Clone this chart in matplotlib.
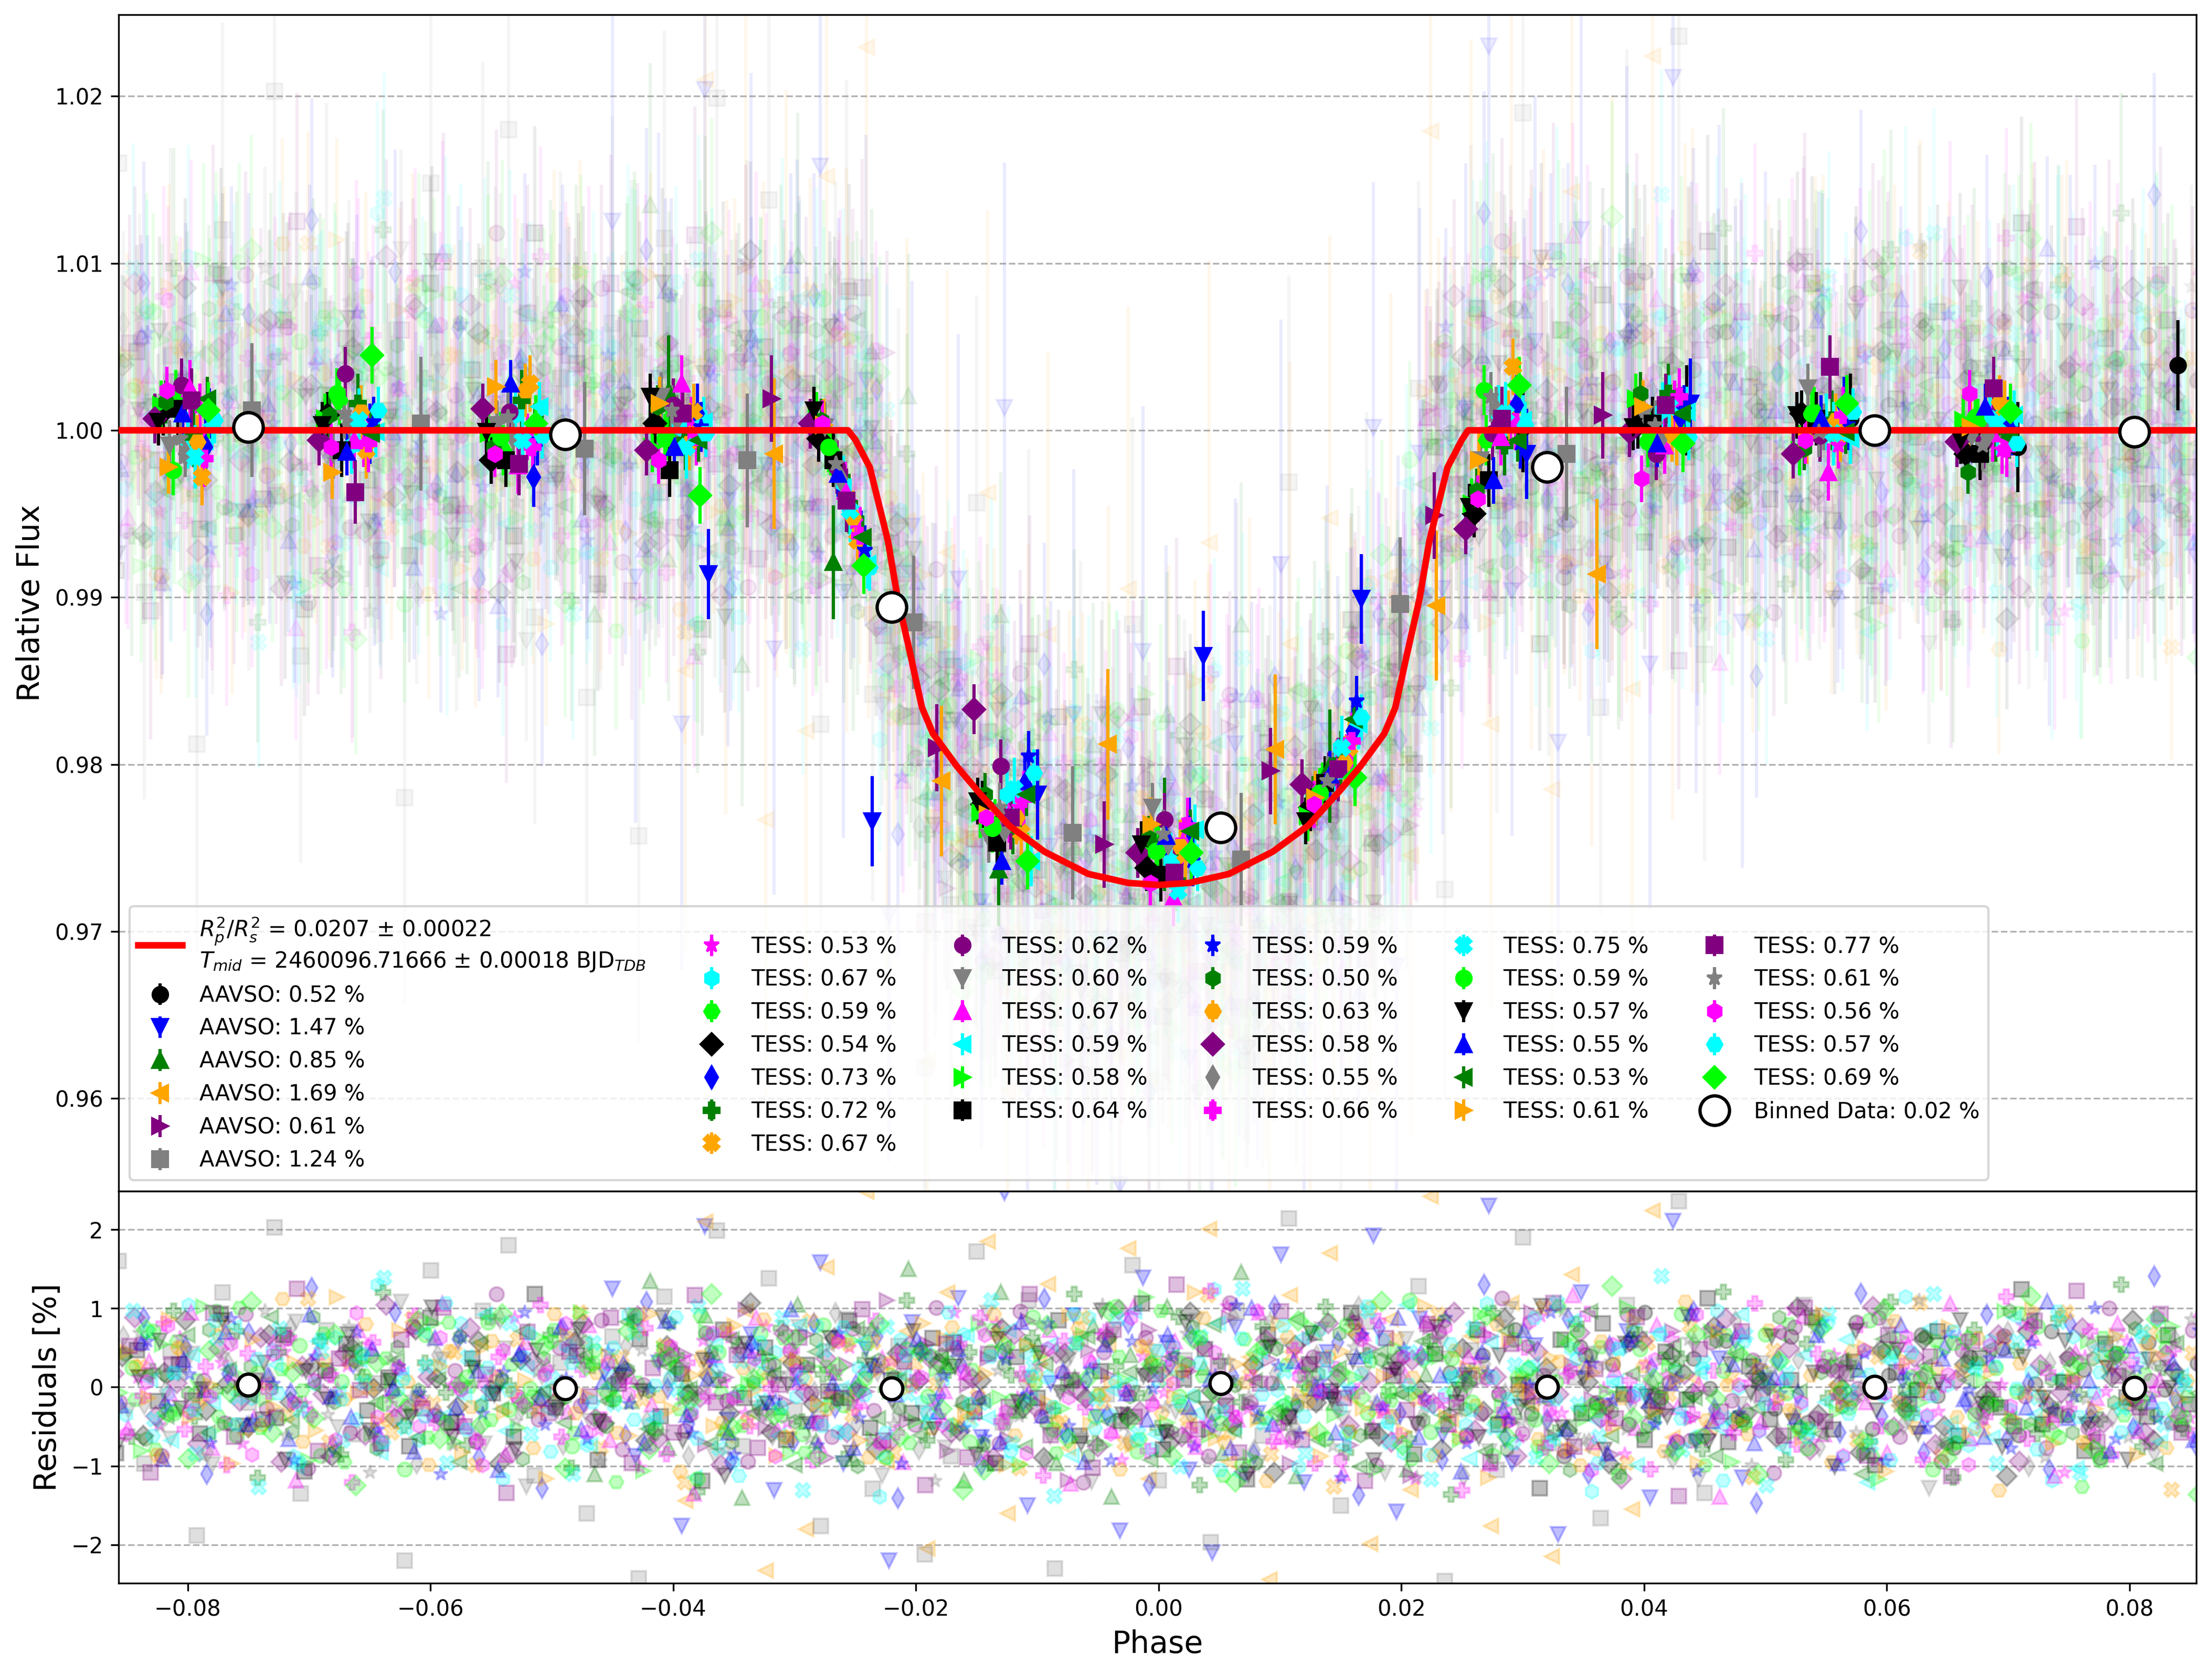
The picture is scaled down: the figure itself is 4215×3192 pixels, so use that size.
import numpy as np
import matplotlib.pyplot as plt

# red transit model
model_phase = [-0.0857, -0.0256, -0.0250, -0.0238, -0.0223, -0.0215, -0.0205, -0.0195, -0.0186,
               -0.0166, -0.0148, -0.0123, -0.0094, -0.0058, -0.0025, 0.0, 0.0025, 0.0058, 0.0094,
               0.0123, 0.0148, 0.0166, 0.0186, 0.0195, 0.0205, 0.0215, 0.0223, 0.0238, 0.0250,
               0.0255, 0.0855]
model_flux = [1.0, 1.0, 0.99945, 0.99778, 0.99336, 0.98993, 0.98672, 0.98340, 0.98185,
              0.97986, 0.97831, 0.97632, 0.97477, 0.97344, 0.97290, 0.97278, 0.97290, 0.97344, 0.97477,
              0.97632, 0.97831, 0.97986, 0.98185, 0.98340, 0.98672, 0.98993, 0.99336, 0.99778, 0.99945,
              1.0, 1.0]

fit_label = ("$R^2_p/R^2_s$ = 0.0207 ± 0.00022\n"
             "$T_{mid}$ = 2460096.71666 ± 0.00018 BJD$_{TDB}$")

# scatter of residuals (%) per dataset, as given in the legend
aavso_sigma = [0.52, 1.47, 0.85, 1.69, 0.61, 1.24]
tess_sigma = [0.53, 0.67, 0.59, 0.54, 0.73, 0.72, 0.67,
              0.62, 0.60, 0.67, 0.59, 0.58, 0.64,
              0.59, 0.50, 0.63, 0.58, 0.55, 0.66,
              0.75, 0.59, 0.57, 0.55, 0.53, 0.61,
              0.77, 0.61, 0.56, 0.57, 0.69]

# AAVSO binned points (phase, flux deviation in 1e-4, error in 1e-4)
aavso_bin_phase = [
    [0.0300, 0.0435, 0.0570, 0.0708, 0.0840],
    [-0.0371, -0.0236, -0.0100, 0.0037, 0.0167, 0.0303, 0.0438],
    [-0.0404, -0.0268, -0.0132, 0.0005, 0.0141],
    [-0.0317, -0.0179, -0.0042, 0.0096, 0.0229, 0.0361],
    [-0.0319, -0.0183, -0.0045, 0.0092, 0.0227, 0.0366],
    [-0.0747, -0.0608, -0.0473, -0.0339, -0.0202, -0.0071, 0.0068, 0.0199, 0.0336],
]
aavso_bin_dev = [
    [2, 12, 7, -10, 39],
    [-86, -234, -218, -135, -101, -14, 16],
    [23, -79, -263, -242, -201],
    [-14, -210, -188, -191, -105, -86],
    [19, -190, -248, -204, -51, 9],
    [12, 4, -11, -18, -115, -241, -257, -104, -14],
]
aavso_bin_err = [27, 27, 34, 45, 26, 40]
aavso_range = [(0.024, 0.0856), (-0.045, 0.050), (-0.048, 0.022),
               (-0.039, 0.044), (-0.039, 0.044), (-0.0857, 0.045)]

# TESS binned points: common bin centres plus a phase shift per sector
bin_centres = [-0.0830, -0.0695, -0.0560, -0.0425, -0.0290, -0.0155,
               -0.0020, 0.0115, 0.0250, 0.0385, 0.0520, 0.0655]
tess_shift = [0.0040, 0.0030, 0.0020, 0.0010, 0.0045, 0.0035, 0.0042, 0.0025, 0.0015, 0.0032,
              0.0050, 0.0008, 0.0022, 0.0048, 0.0012, 0.0038, 0.0003, 0.0028, 0.0044, 0.0036,
              0.0018, 0.0006, 0.0026, 0.0046, 0.0014, 0.0033, 0.0024, 0.0013, 0.0052, 0.0047]
tess_bin_dev = [
    [14, -8, -4, 6, -55, -226, -246, -196, 4, 16, -9, -12],
    [-6, -9, 9, 2, -32, -218, -258, -205, 10, 12, 5, 8],
    [21, 18, -12, -3, -12, -236, -251, -214, -6, -2, 11, 4],
    [11, 9, -18, 4, -5, -224, -262, -226, -50, 3, 10, -14],
    [-10, -2, -28, 10, -66, -212, -238, -180, 15, 8, 14, 2],
    [-4, 16, 18, -6, -44, -236, -270, -198, -9, 22, 6, -1],
    [-28, -12, 28, 11, -66, -241, -254, -190, 38, -4, -2, 13],
    [27, 34, 11, 15, -22, -201, -233, -209, -2, -14, -3, -7],
    [-9, -14, 3, 20, 2, -244, -226, -222, -18, 9, 25, -4],
    [25, -6, -21, 28, -36, -230, -280, -202, -4, -9, -25, -2],
    [3, -1, 14, 5, -80, -258, -239, -176, 6, 11, -5, 9],
    [15, 7, -2, -10, 8, -229, -252, -231, -44, 19, -12, 6],
    [13, -12, -18, -24, -18, -247, -266, -211, -30, 4, 7, -14],
    [10, 5, -6, 2, -72, -195, -258, -162, -8, 12, 3, 0],
    [17, 9, -10, 14, 6, -218, -244, -220, -36, 22, -11, -25],
    [-7, 11, 24, -8, -52, -232, -249, -199, 8, -3, 6, 17],
    [7, -6, 13, -12, 4, -167, -253, -212, -59, -1, -14, -7],
    [-14, 4, -4, 7, -29, -239, -247, -207, 12, -6, 2, -3],
    [-17, -8, -10, -4, -63, -221, -237, -186, 5, 20, 9, -11],
    [-16, 6, -6, -10, -48, -215, -276, -190, 10, 14, -2, 4],
    [-24, 22, -4, -5, -10, -238, -252, -217, 24, -7, 10, 8],
    [5, 3, -1, 20, 12, -222, -248, -234, -46, 2, 9, -6],
    [10, -13, 28, -10, -26, -258, -243, -206, -30, -8, 7, 14],
    [19, -2, 3, -6, -64, -218, -240, -173, -6, 10, -1, -4],
    [-22, -25, 26, 16, 3, -230, -236, -220, -18, 14, -4, 2],
    [18, -37, -20, 10, -42, -232, -265, -203, 7, 15, 38, 25],
    [-5, 10, 8, 12, -20, -226, -242, -210, 20, 3, -1, -9],
    [24, -10, -14, -18, 4, -232, -271, -224, -41, -29, -6, 22],
    [6, 12, -3, -2, -82, -205, -262, -172, 3, -4, 11, -8],
    [12, 45, 4, -39, -81, -258, -253, -208, 27, -8, 16, 11],
]
tess_bin_err = [14, 17, 15, 14, 18, 18, 17, 16, 15, 17, 15, 15, 16, 15, 13,
                16, 15, 14, 17, 19, 15, 14, 14, 13, 16, 19, 15, 14, 14, 17]

# unbinned residuals, hundredths of a percent, in phase order
aavso_resid = [
    "18 -61 40 -9 73 -34 6 -88 51 -20 29 -47 95 -13 -70 36 -2 59 -41 12 -27 64 "
    "-45 27 -8 82 -53 15 -29 66 -11 -77 38 -20 49 -61 4 71 -36 22 -90 43 -15 57 -3 -48 30",
    "125 -88 31 -176 204 -42 67 -131 15 158 -97 48 -220 82 -19 113 -64 247 -150 5 91 -38 -182 139 56 -105 "
    "-210 76 -33 168 -121 44 -9 192 -158 87 -61 15 230 -96 53 -187 120 -24 71 -140 211 -70 36 -115 8",
    "62 -110 34 -18 135 -77 9 91 -52 -140 43 -26 105 -68 18 -91 74 -5 150 -43 27 -118 "
    "-73 121 -30 54 -96 12 78 -139 41 -8 102 -61 25 -84 146 -37 6 -113 69 -20 88 -51 33 -104 16",
    "-144 210 -61 97 -233 35 -180 152 -12 248 -95 71 -205 120 -37 185 -160 8 131 -77 -258 54 176 -116 22 -48 "
    "201 -95 38 -244 117 -58 170 -13 -199 86 -130 242 -41 65 -176 107 -22 -215 143 -80 31 -155 224 -64 12",
    "41 -73 12 98 -52 -19 67 -90 28 -6 110 -44 55 -81 3 36 -66 84 -27 -118 47 15 -35 72 -58 20 "
    "-56 88 -21 35 -97 61 -8 -74 49 17 -112 76 -33 4 64 -45 95 -62 28 -15 -86 52 -3 71 -39",
    "160 -97 45 -188 120 -20 203 -135 72 -60 5 -220 148 -44 97 180 -112 31 -160 64 -243 115 -8 199 -75 138 -30 -176 86 -129 52 -212 "
    "-88 172 -45 110 -230 61 -9 155 -118 34 -197 96 -62 214 -20 -150 83 -38 128 -246 47 -105 190 -71 12 -166 104 -29 236 -134",
]
tess_resid_a = [
    "12 -48 63 -5 31 -72 8 45 -21 -90 27 54 -13 70 -38 2 -61 19 88 -27 -4 36 -55 15 -102 41 -17 59 6 -33 77 -46 24 -9 50 -68 33 -1 -24 95",
    "-35 71 -8 104 -59 22 -14 47 -88 5 63 -41 130 -3 -67 28 81 -22 -116 39 -6 54 -73 17 92 -48 11 -29 66 -95 3 44 -12 78 -57 25 -139 60 -19 8",
    "44 -16 -79 58 9 -37 101 -52 23 -4 68 -95 15 37 -23 -64 82 1 -42 29 -11 73 -58 47 -120 6 34 -28 91 -7 -49 18 62 -83 26 -15 55 -3 -71 40",
    "-7 39 -62 18 85 -30 4 -51 66 -19 27 -88 49 -2 -40 73 11 -25 58 -97 35 -14 3 80 -46 21 -68 52 -9 14 -33 107 -57 30 -21 62 -6 -79 43 8",
    "88 -24 51 -110 17 69 -43 -8 126 -75 30 -56 95 -14 -33 61 -89 7 42 -128 74 -19 23 -61 108 -2 -47 37 -95 55 12 -70 81 -26 3 64 -141 46 -11 29",
    "-63 20 97 -38 -5 71 -115 44 -22 58 -86 13 120 -49 31 -7 -74 89 2 -30 66 -102 27 -15 83 -57 40 -133 9 52 -26 75 -44 16 -91 34 -3 110 -68 21",
    "26 -91 48 -13 79 -54 5 -36 112 -70 33 -2 -58 87 -21 44 -99 14 60 -29 -6 95 -77 38 -16 52 -121 23 71 -44 10 -63 84 -9 -35 57 -84 30 3 -48",
    "-19 55 -87 31 8 -46 93 -27 62 -103 16 -58 40 -5 77 -36 21 -69 118 -12 -41 50 -24 85 -79 3 36 -55 69 -17 -94 28 46 -8 -63 74 -30 12 -48 101",
    "71 -30 14 -66 42 -98 59 -12 -37 83 7 -51 25 -80 108 -20 35 -4 -72 49 -126 18 64 -43 2 90 -59 31 -15 -88 54 -27 11 76 -40 -6 67 -112 23 -33",
    "-52 33 -8 95 -77 18 -39 61 -118 44 -3 72 -60 25 -14 106 -45 9 -86 57 28 -31 79 -67 13 -22 49 -135 40 -10 88 -54 6 -74 65 -18 37 -95 51 -5",
    "9 -68 41 -20 77 -45 28 -101 58 -6 34 -83 16 69 -37 -12 92 -56 24 -29 47 -74 3 86 -41 19 -115 53 -8 31 -62 79 -24 -2 58 -90 14 42 -49 66",
    "36 -7 -81 54 -29 102 -48 11 -15 67 -93 22 45 -60 8 -34 81 -70 27 -1 -52 63 -20 95 -39 14 -106 48 -12 71 -58 5 38 -84 26 -23 59 -66 17 -44",
    "-84 47 -18 29 -59 93 -2 -41 66 -107 21 55 -30 12 -75 88 -45 36 -8 -63 118 -26 40 -92 4 61 -37 17 -119 73 -14 50 -67 28 -5 84 -52 9 -33 62",
    "58 -25 16 -71 87 -43 4 -92 39 -13 70 -54 26 -8 -110 63 -34 19 95 -48 11 -66 45 -21 -3 80 -59 32 -86 52 -17 7 -74 68 -39 23 -97 41 14 -52",
    "-31 42 -66 15 -8 73 -47 26 -2 -57 89 -19 33 -78 51 -4 -39 64 -24 10 -91 37 -13 57 -50 22 -5 81 -36 45 -70 6 29 -44 60 -16 -100 34 -27 48",
    "27 -86 50 -21 65 -3 -48 112 -69 34 -15 80 -41 7 -98 46 -25 59 -6 -77 93 -33 18 -58 71 -12 -107 39 -45 24 86 -63 10 -28 54 -89 31 3 -52 76",
    "-46 17 88 -37 5 -72 49 -18 63 -95 26 -9 42 -61 104 -29 13 -50 75 -4 -84 33 -22 57 -40 8 90 -66 21 -13 -99 45 -31 68 -7 36 -58 19 -71 52",
    "64 -22 -5 47 -83 30 -49 11 76 -36 -15 58 -67 24 -97 41 -2 -54 87 -28 16 -73 35 -10 52 -43 7 -88 62 -19 28 -61 39 -6 94 -47 20 -35 -79 13",
    "-11 80 -54 26 -99 43 -6 62 -35 15 -121 57 -28 91 -46 3 -70 38 -17 104 -63 22 -41 8 75 -85 31 -12 66 -50 -2 47 -93 19 -26 84 -58 12 -37 55",
    "97 -41 18 -85 62 -13 -127 74 -29 45 -68 5 139 -52 27 -96 38 -7 81 -60 11 -110 56 -22 69 -39 -3 102 -78 33 -17 88 -131 47 -58 21 76 -9 -45 60",
    "-58 24 71 -33 -9 96 -62 18 -40 53 -87 7 39 -21 -104 66 -46 13 82 -29 -2 58 -75 30 -15 91 -53 25 -116 44 -6 68 -36 -60 79 -23 11 -89 48 -12",
    "40 -74 12 59 -27 -3 85 -49 31 -92 20 -16 67 -55 8 -38 101 -63 24 -10 -79 46 -30 73 -44 15 -5 88 -68 34 -112 55 -21 3 -47 62 -84 27 -18 71",
    "-23 57 -91 35 -4 70 -47 16 -66 92 -12 -38 49 -1 -82 63 -26 21 -105 42 -14 76 -53 7 30 -71 84 -35 11 -58 46 -19 99 -43 5 -77 28 -9 61 -31",
    "15 -37 66 -58 22 -11 89 -42 3 -79 48 -20 34 -64 10 -95 56 -28 71 -6 -45 40 -18 83 -53 26 -2 -72 61 -33 17 -99 45 -14 74 -40 8 -61 37 -24",
    "-70 45 -14 86 -39 3 -97 60 -25 31 -55 114 -8 -44 72 -19 26 -83 50 -32 9 -116 67 -11 40 -62 93 -28 15 -49 78 -4 -87 34 -21 57 -68 22 -6 81",
    "52 -108 29 -17 94 -63 8 -39 125 -81 36 -4 -72 60 -27 101 -50 16 -134 70 -33 45 -12 88 -96 24 -58 117 -20 41 -77 3 63 -46 -14 99 -68 32 -124 55",
    "-27 69 -50 14 -88 41 -6 97 -62 23 -35 77 -108 36 -13 58 -74 5 85 -43 19 -30 64 -94 11 47 -57 28 -2 -80 101 -39 16 -66 52 -21 73 -47 8 -119",
    "33 -60 7 78 -31 -12 55 -86 42 -20 9 -67 94 -38 25 -50 63 -3 -99 47 -24 16 81 -57 30 -9 -76 52 -34 69 -14 36 -88 21 -45 58 -6 -71 44 12",
    "-62 18 -29 84 -47 36 -8 -95 61 -16 43 -70 11 -37 107 -54 25 -4 68 -82 31 -19 50 -41 2 89 -65 22 -112 57 -26 13 -49 76 -10 -58 40 -33 95 -21",
    "73 -33 -91 46 -7 108 -58 19 -40 67 -125 31 -14 85 -66 4 -47 93 -22 52 -103 27 -5 71 -79 38 -17 118 -52 10 -36 61 -88 25 -1 80 -63 44 -28 -130",
]
tess_resid_b = [
    "-36 81 -14 27 -59 4 66 -92 39 -7 18 -45 103 -28 52 -71 10 -3 84 -50 23 -116 61 -19 35 -8 -64 90 -33 47 -2 -85 29 15 -40 72 -57 6 -24 98 -69 41 -12 -93 55 20 -31 64 -47 3 79 -17 -108 38 -6 58 -74 26 -39 12",
    "67 -20 -95 44 13 -61 88 -36 5 -79 52 -11 124 -54 30 -4 -101 73 -27 16 60 -83 37 -9 -48 106 -15 25 -70 49 -132 8 82 -42 21 -63 97 -1 -56 34 -23 77 -89 46 -12 115 -38 3 -74 59 -29 19 -118 64 -7 41 -52 86 -18 -66",
    "-48 22 73 -31 5 -84 56 -10 39 -66 97 -23 14 -112 61 -40 28 -3 85 -57 33 -17 -91 48 -6 70 -44 12 -75 103 -29 51 -8 -62 37 19 -99 66 -34 4 80 -52 26 -15 -88 44 -1 59 -70 31 -21 94 -47 9 -126 63 -36 17 50 -12",
    "31 -56 8 74 -27 -90 43 -14 62 -38 19 -71 95 -5 -46 28 -108 53 -20 11 67 -62 36 -3 -79 49 -31 87 -12 24 -55 6 -97 58 -26 40 -8 76 -43 15 -64 101 -35 2 -83 47 -18 60 -50 29 -9 -113 71 -24 38 -41 13 85 -68 20",
    "-99 43 -17 112 -60 8 -36 81 -124 29 66 -48 14 -85 103 -21 -5 57 -137 75 -33 40 -92 18 130 -64 3 -41 87 -110 52 -12 24 -76 96 -28 61 -147 35 -9 70 -58 119 -37 11 -83 48 -20 92 -66 5 -104 80 -31 27 -52 141 -15 -73 39",
    "44 -97 15 63 -30 118 -71 26 -8 -52 89 -124 33 -19 77 -45 5 102 -83 40 -11 -66 58 -136 21 94 -37 12 -58 80 -25 -107 67 -4 36 -79 121 -48 17 -92 55 -14 30 -69 108 -33 2 -115 73 -22 46 -60 87 -9 -41 130 -76 24 -53 10",
    "-12 67 -103 34 -45 88 -20 -71 51 9 -37 117 -58 24 -85 40 -4 -126 73 -29 61 -16 92 -64 18 -43 7 101 -79 30 -24 -96 56 -9 78 -51 13 -114 46 -33 85 -2 -67 38 -19 107 -88 21 -55 62 -8 -41 95 -72 27 -14 69 -130 43 -26",
    "50 -14 -72 96 -37 18 -121 44 -3 63 -55 29 -88 107 -20 5 -64 38 -11 82 -99 24 -46 70 -8 -33 113 -59 15 -81 41 -26 92 -48 6 -68 57 -17 34 -109 76 -40 21 -2 88 -63 11 -94 47 -29 65 -12 -77 36 -52 100 -21 8 -45 72",
    "-77 28 94 -46 11 -63 39 -120 67 -8 45 -31 84 -57 2 -96 52 -19 73 -40 17 -109 61 -25 36 -4 -82 99 -48 13 -68 42 -15 87 -35 6 -117 58 -22 30 -74 104 -51 19 -9 77 -43 -128 55 -16 40 -61 91 -28 3 -86 65 -38 24 -5",
    "19 -89 47 -6 73 -122 34 -55 102 -17 58 -76 8 -41 95 -63 27 -3 -109 68 -30 15 84 -48 39 -97 61 -12 -34 117 -70 22 -52 79 -25 4 -139 71 -44 12 90 -60 36 -19 -83 54 -7 106 -65 29 -38 63 -112 44 -14 81 -56 9 -27 98",
    "-39 72 -15 54 -87 26 -4 96 -60 17 -33 81 -110 45 -21 63 -7 -75 38 -48 104 -26 12 -91 57 -13 29 -66 85 -42 6 -99 69 -30 18 -53 92 -1 -78 41 -19 60 -121 33 -9 75 -46 22 -64 88 -35 10 -103 51 -24 37 -70 14 -57 79",
    "22 -54 80 -13 -98 41 -27 66 -74 9 114 -45 30 -62 3 -89 57 -19 75 -36 12 -105 49 -8 38 -67 92 -24 16 -81 60 -40 -6 101 -53 27 -15 70 -95 34 -2 -58 86 -31 19 -117 63 -20 44 -71 8 96 -48 25 -37 58 -84 14 -11 77",
    "57 -31 -96 38 -14 85 -62 20 -43 106 -79 11 48 -24 -117 67 -37 29 -5 94 -56 14 -85 42 -20 73 -48 3 -128 60 -33 81 -9 -67 45 -16 113 -70 26 -41 9 88 -54 32 -99 19 -4 71 -62 37 -26 124 -47 6 -81 55 -13 -38 66 -22",
    "-64 35 -10 81 -49 22 -93 58 -2 41 -76 14 104 -38 27 -59 7 -115 66 -25 48 -14 88 -71 19 -42 3 95 -83 30 -17 62 -47 11 -106 74 -33 26 -8 -60 83 -21 43 -94 15 -52 69 -4 37 -78 56 -29 -12 100 -66 24 -40 9 72 -53",
    "41 -19 -72 28 55 -45 8 -88 63 -12 30 -57 76 -34 2 -96 49 -23 17 68 -61 35 -6 -42 84 -28 12 -79 52 -15 -105 40 -31 71 -9 24 -66 59 -38 5 89 -51 19 -25 -84 46 -3 63 -72 32 -14 97 -47 10 -58 36 -20 74 -36 15",
    "-28 93 -61 17 -44 75 -9 -104 52 -33 21 88 -70 6 -119 64 -18 39 -56 101 -37 12 -87 47 -23 80 -4 -66 33 -99 58 -14 27 -81 109 -42 3 -60 72 -29 15 -95 46 -8 84 -52 24 -38 62 -131 30 -11 90 -69 41 -20 55 -77 8 -45",
    "36 -58 11 -90 67 -25 43 -4 -76 98 -31 19 -63 52 -14 -107 60 -38 27 81 -49 6 -70 34 -21 95 -55 13 -88 45 -9 69 -40 -116 58 -26 16 -62 87 -33 2 49 -80 24 -17 102 -51 38 -73 9 -30 66 -94 28 -7 75 -46 20 -58 41",
    "-21 74 -47 8 -95 33 -15 58 -68 26 52 -36 -3 89 -80 17 -53 40 -27 102 -61 12 -39 63 -112 29 -8 77 -44 19 -71 48 -22 6 -91 56 -33 84 -12 -57 35 -76 21 -4 97 -48 14 -63 42 -29 70 -100 31 -16 54 -38 9 -82 60 -24",
    "88 -44 17 -112 59 -26 70 -8 -81 36 -55 122 -33 12 -69 47 -97 23 -5 84 -62 38 -17 -131 66 -29 50 -77 14 93 -46 8 -104 61 -35 21 -58 106 -19 -73 42 -12 79 -50 27 -92 3 57 -38 115 -66 18 -28 71 -86 34 -9 48 -61 25",
    "-43 110 -72 26 -138 55 -15 87 -59 9 -101 64 -31 125 -46 20 -84 37 -3 96 -70 44 -117 13 75 -52 28 -90 107 -22 -63 49 -9 141 -80 31 -40 66 -125 18 -56 92 -6 -74 39 -33 118 -61 24 -97 58 -14 83 -109 41 -27 70 -48 3 -88",
    "30 -70 45 -17 89 -54 8 -38 102 -82 27 -12 63 -46 -98 51 -24 16 -66 79 -33 -4 110 -57 36 -19 -87 60 -41 7 72 -29 -113 48 -15 93 -62 21 -45 67 -8 -78 38 -26 85 -51 12 -104 56 -35 24 -6 77 -64 31 -93 43 -18 65 -39",
    "-54 26 -86 61 -19 43 -7 -72 97 -35 14 -58 82 -28 5 -110 50 -39 68 -16 33 -93 22 -47 76 -3 -64 40 -25 103 -51 11 -80 55 -12 -37 89 -69 29 -8 64 -44 18 -101 71 -30 47 -59 6 85 -22 -76 38 -14 59 -48 24 -92 35 -1",
    "48 -12 -69 83 -36 21 -95 54 -8 -41 67 -25 10 -77 101 -47 33 -2 -58 39 -20 88 -64 15 -107 45 -29 72 -10 -53 26 -84 60 -17 5 94 -43 29 -71 12 -38 66 -96 22 -6 79 -50 36 -15 -63 47 -26 109 -39 8 -81 53 -18 31 -67",
    "-17 51 -76 29 -3 64 -44 19 -92 38 -12 79 -55 8 -31 86 -67 24 -101 45 -9 58 -36 13 -82 71 -23 4 -49 96 -62 17 -38 53 -14 -88 42 -27 67 -5 -59 34 -110 61 -19 27 -73 9 48 -41 85 -30 11 -64 39 -22 -97 56 -8 73",
    "62 -35 17 -99 53 -20 91 -47 6 -74 38 -12 120 -66 29 -41 80 -9 -88 45 -27 14 -57 103 -38 24 -115 60 -6 37 -79 18 -52 85 -31 9 -96 71 -44 26 -13 -65 92 -22 50 -107 33 -3 76 -58 19 -39 99 -71 12 -28 64 -86 40 -15",
    "-89 42 -25 118 -61 9 -102 73 -38 16 130 -54 27 -83 4 96 -67 35 -14 -119 62 -29 80 -47 11 -95 55 -6 107 -76 23 -40 89 -18 -138 48 -31 71 -9 -62 101 -44 17 -87 66 -22 39 -113 58 -3 -50 84 -35 122 -70 14 -26 93 -58 31",
    "44 -88 21 -37 79 -5 -62 104 -49 15 -26 68 -93 33 -12 87 -56 4 -75 51 -20 39 -114 63 -31 9 82 -44 -17 96 -68 27 -54 12 -83 60 -8 41 -99 22 -36 75 -11 -58 48 -25 110 -71 18 -42 65 -3 -89 37 -15 57 -64 29 -47 86",
    "-48 20 66 -31 -84 49 -13 32 -59 88 -22 5 -71 44 -38 97 -50 14 -6 -92 61 -27 39 -16 76 -64 10 -43 83 -29 21 -105 54 -12 35 -68 92 -40 3 -55 70 -19 28 -87 47 -8 64 -36 16 -98 53 -24 79 -45 7 -61 38 -14 89 -33",
    "39 -81 14 -25 93 -52 7 -68 46 -18 31 -105 62 -9 78 -37 20 -59 103 -44 3 -86 55 -29 12 -71 88 -15 36 -96 49 -4 67 -40 24 -118 58 -21 9 -63 82 -34 16 -92 44 -11 71 -53 27 -2 -79 96 -38 19 -57 64 -27 8 -101 52",
    "-105 51 -20 78 -66 13 96 -41 29 -88 61 -7 -120 43 -32 84 -57 18 -13 109 -74 36 -48 5 91 -63 22 -97 56 -26 128 -39 10 -82 67 -15 44 -111 33 -54 75 -4 -69 99 -30 17 -90 60 -21 -46 115 -58 26 -79 40 -9 86 -36 -136 48",
]

# combined binned data (white circles)
all_bin_phase = [-0.0750, -0.0489, -0.0220, 0.0051, 0.0320, 0.0590, 0.0804]
all_bin_flux = [1.0002, 0.99976, 0.98941, 0.97623, 0.99781, 1.0000, 0.99992]
all_bin_resid = [0.03, -0.02, -0.02, 0.05, 0.0, 0.0, -0.01]

colors = ['black', 'blue', 'green', 'orange', 'purple', 'grey', 'magenta', 'cyan', 'lime']
markers = ['o', 'v', '^', '<', '>', 's', '*', 'h', 'H', 'D', 'd', 'P', 'X']

fig = plt.figure(figsize=(14.05, 10.64), dpi=300)
gs = fig.add_gridspec(2, 1, height_ratios=[3, 1], hspace=0,
                      left=0.0536, right=0.9929, top=0.9912, bottom=0.0548)
ax = fig.add_subplot(gs[0])
axr = fig.add_subplot(gs[1], sharex=ax)

ax.plot(model_phase, model_flux, 'r-', lw=3, zorder=4, label=fit_label)

for i in range(6 + len(tess_sigma)):
    c = colors[i % len(colors)]
    m = markers[i % len(markers)]
    if i < 6:
        sig = aavso_sigma[i]
        res = np.array(aavso_resid[i].split(), dtype=float) / 100
        lo, hi = aavso_range[i]
        ph = np.linspace(lo, hi, len(res))
        bph = np.array(aavso_bin_phase[i])
        bflux = 1 + np.array(aavso_bin_dev[i]) / 1e4
        berr = aavso_bin_err[i] / 1e4
        label = f"AAVSO: {sig:.2f} %"
    else:
        t = i - 6
        sig = tess_sigma[t]
        res = np.array((tess_resid_a[t] + " " + tess_resid_b[t]).split(), dtype=float) / 100
        ph = np.linspace(-0.0856, 0.0852, len(res)) + tess_shift[t] - 0.0025
        bph = np.array(bin_centres) + tess_shift[t]
        bflux = 1 + np.array(tess_bin_dev[t]) / 1e4
        berr = tess_bin_err[t] / 1e4
        label = f"TESS: {sig:.2f} %"

    raw = np.interp(ph, model_phase, model_flux) + res / 100
    ax.errorbar(ph, raw, yerr=sig / 100, fmt=m, color=c, ms=7, alpha=0.08, zorder=1)
    ax.errorbar(bph, bflux, yerr=berr, fmt=m, color=c, ms=7, zorder=3, label=label)
    axr.plot(ph, res, ls='none', marker=m, color=c, ms=6.5, alpha=0.25, zorder=2)

ax.errorbar(all_bin_phase, all_bin_flux, yerr=0.0002, fmt='o', ms=13.5, mfc='white',
            mec='black', mew=1.5, ecolor='black', zorder=4.5, label='Binned Data: 0.02 %')
axr.errorbar(all_bin_phase, all_bin_resid, yerr=0.02, fmt='o', ms=10, mfc='white',
             mec='black', mew=1.5, ecolor='black', zorder=4.5)

ax.set_xlim(-0.0857, 0.0855)
ax.set_ylim(0.95445, 1.02488)
ax.set_ylabel("Relative Flux", fontsize=14)
ax.grid(True, axis='y', ls='--', color='grey', alpha=0.6)
ax.tick_params(axis='x', which='both', bottom=False, labelbottom=False)
ax.legend(loc='lower left', ncol=6, fontsize=10)

axr.set_ylim(-2.49, 2.49)
axr.set_ylabel("Residuals [%]", fontsize=14)
axr.set_xlabel("Phase", fontsize=14)
axr.grid(True, axis='y', ls='--', color='grey', alpha=0.6)

fig.savefig("out.png", dpi=300)
